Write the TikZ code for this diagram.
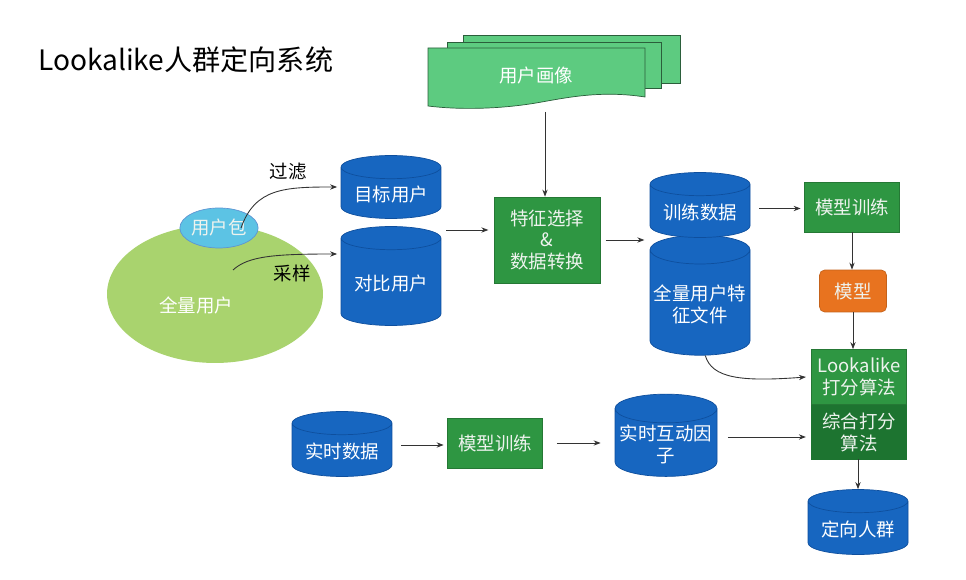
\documentclass[tikz,border=0pt]{standalone}
\usepackage{fontspec}
\setmainfont{Noto Sans CJK SC}
\usetikzlibrary{shapes.geometric, arrows.meta}
\definecolor{cylblue}{HTML}{1766C0}
\definecolor{cylline}{HTML}{0E4F9E}
\definecolor{boxgreen}{HTML}{2E9642}
\definecolor{darkgreen}{HTML}{1D7430}
\definecolor{modelorange}{HTML}{E8731F}
\definecolor{allgreen}{HTML}{A9D36E}
\definecolor{bagblue}{HTML}{5CC3E4}
\definecolor{persona}{HTML}{5DCB80}
\definecolor{personaline}{HTML}{2B5E3B}
\definecolor{boxtext}{HTML}{EEF3EE}

\begin{document}
\begin{tikzpicture}[x=0.02cm, y=-0.02cm,
  txt/.style={font=\fontsize{10.5}{12.5}\selectfont},
  cyl/.style={txt, cylinder, shape border rotate=90, aspect=0.3, fill=cylblue,
    draw=cylline, thin, text=white, align=center, inner sep=1pt, minimum width=2cm},
  gbox/.style={txt, rectangle, fill=boxgreen, draw=boxgreen!80!black, thin,
    text=boxtext, align=center, inner sep=1pt, minimum width=1.9cm},
  arr/.style={-{Stealth[length=4pt, width=3pt]}, draw=black!80, line width=0.5pt}]
%\draw[help lines, color=gray!30] (0,0) grid[step=1cm] (966,580);
\fill[white] (0,0) rectangle (966,580);
\useasboundingbox (0,0) rectangle (966,580);

\node[anchor=west, font=\fontsize{16}{19}\selectfont] (title) at (32,60) {Lookalike人群定向系统};

% user profile stack
\filldraw[fill=persona, draw=personaline, thin] (463,35) rectangle (680,83);
\filldraw[fill=persona, draw=personaline, thin] (447,42) rectangle (661,88);
\filldraw[fill=persona, draw=personaline, thin] (428,48) -- (645,48) -- (645,97)
  .. controls (600,90) and (565,98) .. (536,103)
  .. controls (500,109) and (460,110) .. (428,106) -- cycle;
\node[txt, text=white, minimum width=4.3cm, minimum height=1.1cm] (persona) at (536,76) {用户画像};
\coordinate (pimg) at (545,112);

% users
\node[ellipse, fill=allgreen, minimum width=4.32cm, minimum height=2.76cm] (all) at (215,294) {};
\node[txt, text=white] (alltxt) at (196,305) {全量用户};
\node[txt, ellipse, fill=bagblue, draw=cylblue!70, thin, text=boxtext, inner sep=0pt,
  minimum width=1.5cm, minimum height=0.8cm] (bag) at (219,228) {用户包};
\coordinate (fstart) at (241,228);
\coordinate (sstart) at (233,270);

\node[cyl, minimum height=1.26cm] (tgt) at (391,194.5) {目标用户};
\node[cyl, minimum height=1.98cm] (cmp) at (391,283.5) {对比用户};
\coordinate (split) at (446,230);

\node[gbox, minimum width=2.12cm, minimum height=1.72cm] (feat) at (547,240) {特征选择\\\&\\数据转换};

\node[cyl, minimum height=2.4cm] (full) at (700,304.5) {全量用户特\\征文件};
\node[cyl, minimum height=1.3cm] (train) at (700,212.5) {训练数据};

\node[gbox, minimum height=1cm] (mtrain) at (852,207) {模型训练};
\node[txt, rectangle, rounded corners=3pt, fill=modelorange, draw=modelorange!85!black,
  text=boxtext, minimum width=1.34cm, minimum height=0.84cm] (model) at (853,291) {模型};
\node[gbox, minimum height=1.1cm] (look) at (859,377) {Lookalike\\打分算法};
\node[gbox, fill=darkgreen, draw=darkgreen, minimum height=1.08cm] (comb) at (859,432) {综合打分\\算法};

% realtime row
\node[cyl, minimum height=1.3cm] (rt) at (342,451.5) {实时数据};
\node[gbox, minimum height=1cm] (btrain) at (495,443) {模型训练};
\node[cyl, minimum width=2.04cm, minimum height=1.3cm] (factor) at (666,444.5) {实时互动因\\子};
\node[cyl, minimum height=1.3cm] (crowd) at (858,529.5) {定向人群};

% connectors
\draw[arr] (pimg) -- (pimg |- feat.north);
\draw[arr] (fstart) .. controls (255,188) and (285,187) .. ([xshift=-2pt, yshift=0.15cm]tgt.west);
\node[txt] (filter) at (288,172) {过滤};
\draw[arr] (sstart) .. controls (248,256) and (275,254) .. ([xshift=-2pt, yshift=0.59cm]cmp.west);
\node[txt] (sample) at (292,273) {采样};
\draw[arr] (split) -- ([xshift=-3pt]split -| feat.west);
\draw[arr] ([xshift=3pt]feat.east) -- ([xshift=-3pt]feat.east -| full.west);
\draw[arr] ([xshift=5pt, yshift=0.08cm]train.east) -- ([xshift=-2pt, yshift=0.08cm]train.east -| mtrain.west);
\draw[arr] (mtrain.south) -- (mtrain.south |- model.north);
\draw[arr] (model.south) -- (model.south |- look.north);
\draw[arr] ([xshift=3pt]full.south) .. controls (712,378) and (740,382) .. ([xshift=-3pt]look.west);
\draw[arr] ([xshift=5pt, yshift=0.13cm]rt.east) -- ([xshift=-2pt, yshift=0.13cm]rt.east -| btrain.west);
\draw[arr] ([xshift=8pt]btrain.east) -- ([xshift=-8pt]btrain.east -| factor.west);
\draw[arr] ([xshift=6pt, yshift=0.15cm]factor.east) -- ([xshift=-3pt, yshift=0.15cm]factor.east -| comb.west);
\draw[arr] (crowd.north |- comb.south) -- (crowd.north);

\end{tikzpicture}
\end{document}
